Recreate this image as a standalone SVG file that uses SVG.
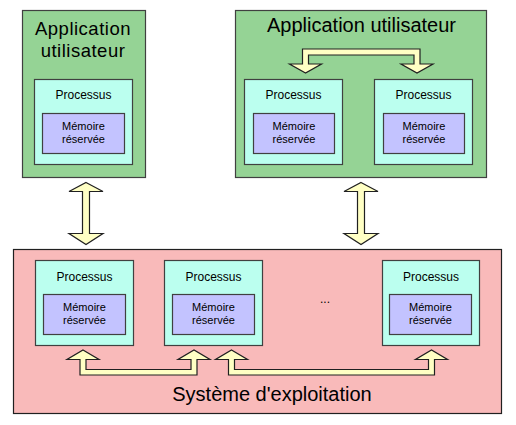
<svg xmlns="http://www.w3.org/2000/svg" width="516" height="425" viewBox="0 0 516 425">
<style>
text{font-family:"Liberation Sans","DejaVu Sans",sans-serif;fill:#000;text-anchor:middle}
.app{fill:#95d395;stroke:#404040;stroke-width:1.2}
.os{fill:#f9baba;stroke:#202020;stroke-width:1.2}
.proc{fill:#bbffef;stroke:#404040;stroke-width:1.2}
.mem{fill:#c3c3ff;stroke:#404040;stroke-width:1.2}
.arr{fill:#ffffc4;stroke:#202020;stroke-width:1.2;stroke-linejoin:miter}
.big{font-size:20px}
.ttl{font-size:18.5px;letter-spacing:0.5px}
.t12{font-size:12px}
.t11{font-size:11px}
</style>
<rect width="516" height="425" fill="#fff"/>
<g id="os">
<rect class="os" x="13.5" y="249.5" width="488" height="164"/>
<text class="big" x="272" y="401">Système d'exploitation</text>
<text class="t12" x="325" y="303">...</text>
</g>
<g id="app1">
<rect class="app" x="22.5" y="10.5" width="123" height="167"/>
<text class="ttl" x="83" y="35">Application</text>
<text class="ttl" x="83" y="56.5">utilisateur</text>
</g>
<g id="app1-proc">
<rect class="proc" x="34.5" y="79.5" width="98" height="85"/>
<text class="t12" x="83.5" y="99">Processus</text>
<rect class="mem" x="42.5" y="113.5" width="82" height="40"/>
<text class="t11" x="83.5" y="130">Mémoire</text>
<text class="t11" x="83.5" y="143">réservée</text>
</g>
<g id="app2">
<rect class="app" x="235.5" y="10.5" width="251" height="167"/>
<text class="big" x="361.5" y="32">Application utilisateur</text>
</g>
<g id="app2-proc1">
<rect class="proc" x="244.5" y="79.5" width="98" height="85"/>
<text class="t12" x="293.5" y="99">Processus</text>
<rect class="mem" x="253.5" y="113.5" width="81" height="40"/>
<text class="t11" x="294" y="130">Mémoire</text>
<text class="t11" x="294" y="143">réservée</text>
</g>
<g id="app2-proc2">
<rect class="proc" x="374.5" y="79.5" width="98" height="85"/>
<text class="t12" x="423.5" y="99">Processus</text>
<rect class="mem" x="383.5" y="113.5" width="81" height="40"/>
<text class="t11" x="424" y="130">Mémoire</text>
<text class="t11" x="424" y="143">réservée</text>
</g>
<g id="os-proc1">
<rect class="proc" x="35.5" y="260.5" width="98" height="85"/>
<text class="t12" x="84.5" y="281">Processus</text>
<rect class="mem" x="43.5" y="294.5" width="82" height="40"/>
<text class="t11" x="84.5" y="311">Mémoire</text>
<text class="t11" x="84.5" y="324">réservée</text>
</g>
<g id="os-proc2">
<rect class="proc" x="164.5" y="260.5" width="98" height="85"/>
<text class="t12" x="213.5" y="281">Processus</text>
<rect class="mem" x="172.5" y="294.5" width="82" height="40"/>
<text class="t11" x="213.5" y="311">Mémoire</text>
<text class="t11" x="213.5" y="324">réservée</text>
</g>
<g id="os-proc3">
<rect class="proc" x="382.5" y="260.5" width="97" height="85"/>
<text class="t12" x="431" y="281">Processus</text>
<rect class="mem" x="389.5" y="294.5" width="82" height="40"/>
<text class="t11" x="430.5" y="311">Mémoire</text>
<text class="t11" x="430.5" y="324">réservée</text>
</g>
<g id="connectors">
<polygon class="arr" points="86,182.5 103,191.5 89.5,191.5 89.5,233.5 103,233.5 86,244.5 69,233.5 82.5,233.5 82.5,191.5 69,191.5"/>
<polygon class="arr" points="361,182.5 378,191.5 364.5,191.5 364.5,233.5 378,233.5 361,244.5 344,233.5 357.5,233.5 357.5,191.5 344,191.5"/>
<polygon class="arr" points="305.5,73 289.5,64 302.5,64 302.5,49 420,49 420,64 433,64 417,73 401,64 414,64 414,55 308.5,55 308.5,64 321.5,64"/>
<polygon class="arr" points="83,350 99,359.5 86,359.5 86,369.5 191,369.5 191,359.5 178,359.5 194,350 210,359.5 197,359.5 197,375 80,375 80,359.5 67,359.5"/>
<polygon class="arr" points="231.5,350 247.5,359.5 234.5,359.5 234.5,369.5 428.5,369.5 428.5,359.5 415.5,359.5 431.5,350 447.5,359.5 434.5,359.5 434.5,375 228.5,375 228.5,359.5 215.5,359.5"/>
</g>
</svg>
